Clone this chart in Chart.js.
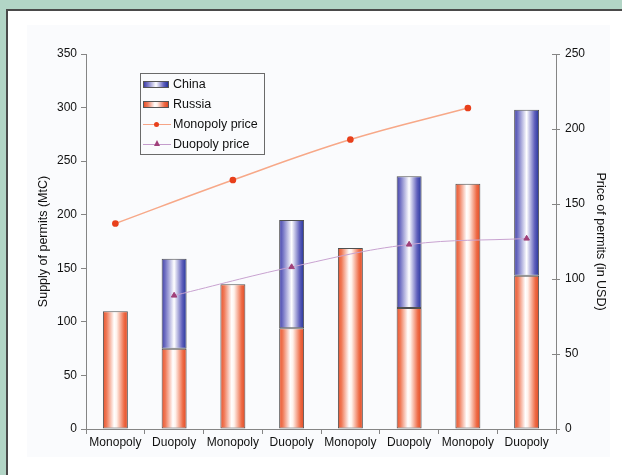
<!DOCTYPE html>
<html>
<head>
<meta charset="utf-8">
<script src="https://cdn.jsdelivr.net/npm/chart.js@4/dist/chart.umd.min.js"></script>
<style>
  html, body { margin:0; padding:0; width:622px; height:475px; overflow:hidden; background:#b2d5c6; font-family:"Liberation Sans", Arial, sans-serif; }
  #panel { position:absolute; left:6px; top:9px; width:700px; height:600px; background:#ffffff; border-left:2px solid #4a4a4a; border-top:2px solid #4a4a4a; }
  #inner { position:absolute; left:27px; top:25px; width:583px; height:432px; background:#fafbfd; }
  #c { position:absolute; left:0; top:0; }
  #legend { position:absolute; left:140px; top:73px; width:125px; height:82px; border:1px solid #6a6a6a; box-sizing:border-box; font-size:12.5px; color:#111; }
  .row { position:absolute; left:2px; height:15px; line-height:15px; white-space:nowrap; }
  .sw { position:absolute; left:0; top:4px; width:26px; height:7px; border:1px solid #555; box-sizing:border-box; }
  .ln { position:absolute; left:0; top:7px; width:28px; height:0; }
  .mk { position:absolute; }
  .lab { position:absolute; left:30px; top:0; }
</style>
</head>
<body>
<div id="panel"></div>
<div id="inner"></div>
<canvas id="c" width="622" height="475"></canvas>
<div id="legend">
  <div class="row" style="top:3px"><span class="sw" style="background:linear-gradient(to right,#4040a6,#7272c4 15%,#ffffff 50%,#6060bc 82%,#22339a)"></span><span class="lab">China</span></div>
  <div class="row" style="top:23px"><span class="sw" style="background:linear-gradient(to right,#e8542e,#f07a58 15%,#ffffff 45%,#fff2ec 55%,#ee6a45 85%,#e04a24)"></span><span class="lab">Russia</span></div>
  <div class="row" style="top:43px"><span class="ln" style="border-top:1.5px solid #f6a486"></span><span class="mk" style="left:11px;top:5px;width:5px;height:5px;border-radius:50%;background:#e8401c"></span><span class="lab">Monopoly price</span></div>
  <div class="row" style="top:63px"><span class="ln" style="border-top:1px solid #c49ccc"></span><span class="mk" style="left:11px;top:3px;width:0;height:0;border-left:3px solid transparent;border-right:3px solid transparent;border-bottom:6px solid #a0407a"></span><span class="lab">Duopoly price</span></div>
</div>
<script>
const categories = ["Monopoly","Duopoly","Monopoly","Duopoly","Monopoly","Duopoly","Monopoly","Duopoly"];
const russia = [110, 75, 135, 94, 169, 113, 229, 143];
const china = [0, 84, 0, 101, 0, 123, 0, 155];
const monopolyPrice = [137, null, 166, null, 193, null, 214, null];
const duopolyPrice = [null, 89, null, 108, null, 123, null, 127];
const leftTicks = [0, 50, 100, 150, 200, 250, 300, 350];
const rightTicks = [0, 50, 100, 150, 200, 250];

const CAT_PCT = 0.85, BAR_PCT = 0.5;
const russiaStops = [[0,'#e8542e'],[0.15,'#f07a58'],[0.45,'#ffffff'],[0.55,'#fff2ec'],[0.85,'#ee6a45'],[1,'#e04a24']];
const chinaStops = [[0,'#4040a6'],[0.15,'#7272c4'],[0.5,'#ffffff'],[0.82,'#6060bc'],[1,'#22339a']];
function barGradient(ctx, stops) {
  const chart = ctx.chart;
  const x = chart.scales.x;
  if (!x || !chart.chartArea) return stops[0][1];
  const cx = x.getPixelForValue(ctx.dataIndex);
  const w = (x.getPixelForValue(1) - x.getPixelForValue(0)) * CAT_PCT * BAR_PCT;
  const g = chart.ctx.createLinearGradient(cx - w/2, 0, cx + w/2, 0);
  stops.forEach(s => g.addColorStop(s[0], s[1]));
  return g;
}

const tickFont = { family: '"Liberation Sans", Arial, sans-serif', size: 12 };
const titleFont = { family: '"Liberation Sans", Arial, sans-serif', size: 12.5 };
const axisColor = '#858585';
const textColor = '#111111';

const innerTicks = {
  id: 'innerTicks',
  afterDraw(chart) {
    const s = chart.scales.y1, c = chart.ctx;
    c.save();
    c.strokeStyle = axisColor; c.lineWidth = 1;
    rightTicks.forEach(v => {
      const y = Math.round(s.getPixelForValue(v)) + 0.5;
      c.beginPath(); c.moveTo(s.left - 4, y); c.lineTo(s.left, y); c.stroke();
    });
    c.restore();
  }
};

new Chart(document.getElementById('c'), {
  data: {
    labels: categories,
    datasets: [
      { type: 'line', label: 'Monopoly price', data: monopolyPrice, yAxisID: 'y1', spanGaps: true,
        borderColor: '#f7a888', borderWidth: 1.5, tension: 0.4, pointStyle: 'circle', pointRadius: 2.6,
        pointBackgroundColor: '#e8401c', pointBorderColor: '#e8401c', order: 0 },
      { type: 'line', label: 'Duopoly price', data: duopolyPrice, yAxisID: 'y1', spanGaps: true,
        borderColor: '#c8a2d0', borderWidth: 1, tension: 0.4, pointStyle: 'triangle', pointRadius: 3.2,
        pointBackgroundColor: '#a0407a', pointBorderColor: '#a0407a', order: 0 },
      { type: 'bar', label: 'Russia', data: russia, yAxisID: 'y', stack: 's',
        backgroundColor: c => barGradient(c, russiaStops),
        borderColor: '#505050', borderWidth: 1, borderSkipped: false,
        categoryPercentage: CAT_PCT, barPercentage: BAR_PCT, order: 1 },
      { type: 'bar', label: 'China', data: china, yAxisID: 'y', stack: 's',
        backgroundColor: c => barGradient(c, chinaStops),
        borderColor: '#505050', borderWidth: c => (china[c.dataIndex] ? 1 : 0), borderSkipped: false,
        categoryPercentage: CAT_PCT, barPercentage: BAR_PCT, order: 1 }
    ]
  },
  options: {
    responsive: false,
    devicePixelRatio: 1,
    animation: false,
    layout: { padding: { top: 54, left: 0, right: 0, bottom: 0 } },
    plugins: { legend: { display: false }, tooltip: { enabled: false } },
    scales: {
      x: {
        stacked: true,
        offset: true,
        grid: { offset: true, drawOnChartArea: false, drawTicks: true, tickLength: 5, color: axisColor },
        border: { display: true, color: axisColor },
        ticks: { font: tickFont, color: textColor, padding: 1, maxRotation: 0, autoSkip: false },
        afterFit: s => { s.height = 46; }
      },
      y: {
        position: 'left', stacked: true, min: 0, max: 350,
        afterBuildTicks: s => { s.ticks = leftTicks.map(v => ({ value: v })); },
        grid: { drawOnChartArea: false, drawTicks: true, tickLength: 5, color: axisColor },
        border: { display: true, color: axisColor },
        ticks: { font: tickFont, color: textColor, padding: 4 },
        title: { display: true, text: 'Supply of permits (MtC)', font: titleFont, color: textColor, padding: { top: 36, bottom: 0 } },
        afterFit: s => { s.width = 86; }
      },
      y1: {
        position: 'right', min: 0, max: 250,
        afterBuildTicks: s => { s.ticks = rightTicks.map(v => ({ value: v })); },
        grid: { drawOnChartArea: false, drawTicks: true, tickLength: 4, color: axisColor },
        border: { display: true, color: axisColor },
        ticks: { font: tickFont, color: textColor, padding: 5 },
        title: { display: true, text: 'Price of permits (in USD)', font: titleFont, color: textColor, padding: { top: 14, bottom: 0 } },
        afterFit: s => { s.width = 66; }
      }
    }
  },
  plugins: [innerTicks]
});
</script>
</body>
</html>
